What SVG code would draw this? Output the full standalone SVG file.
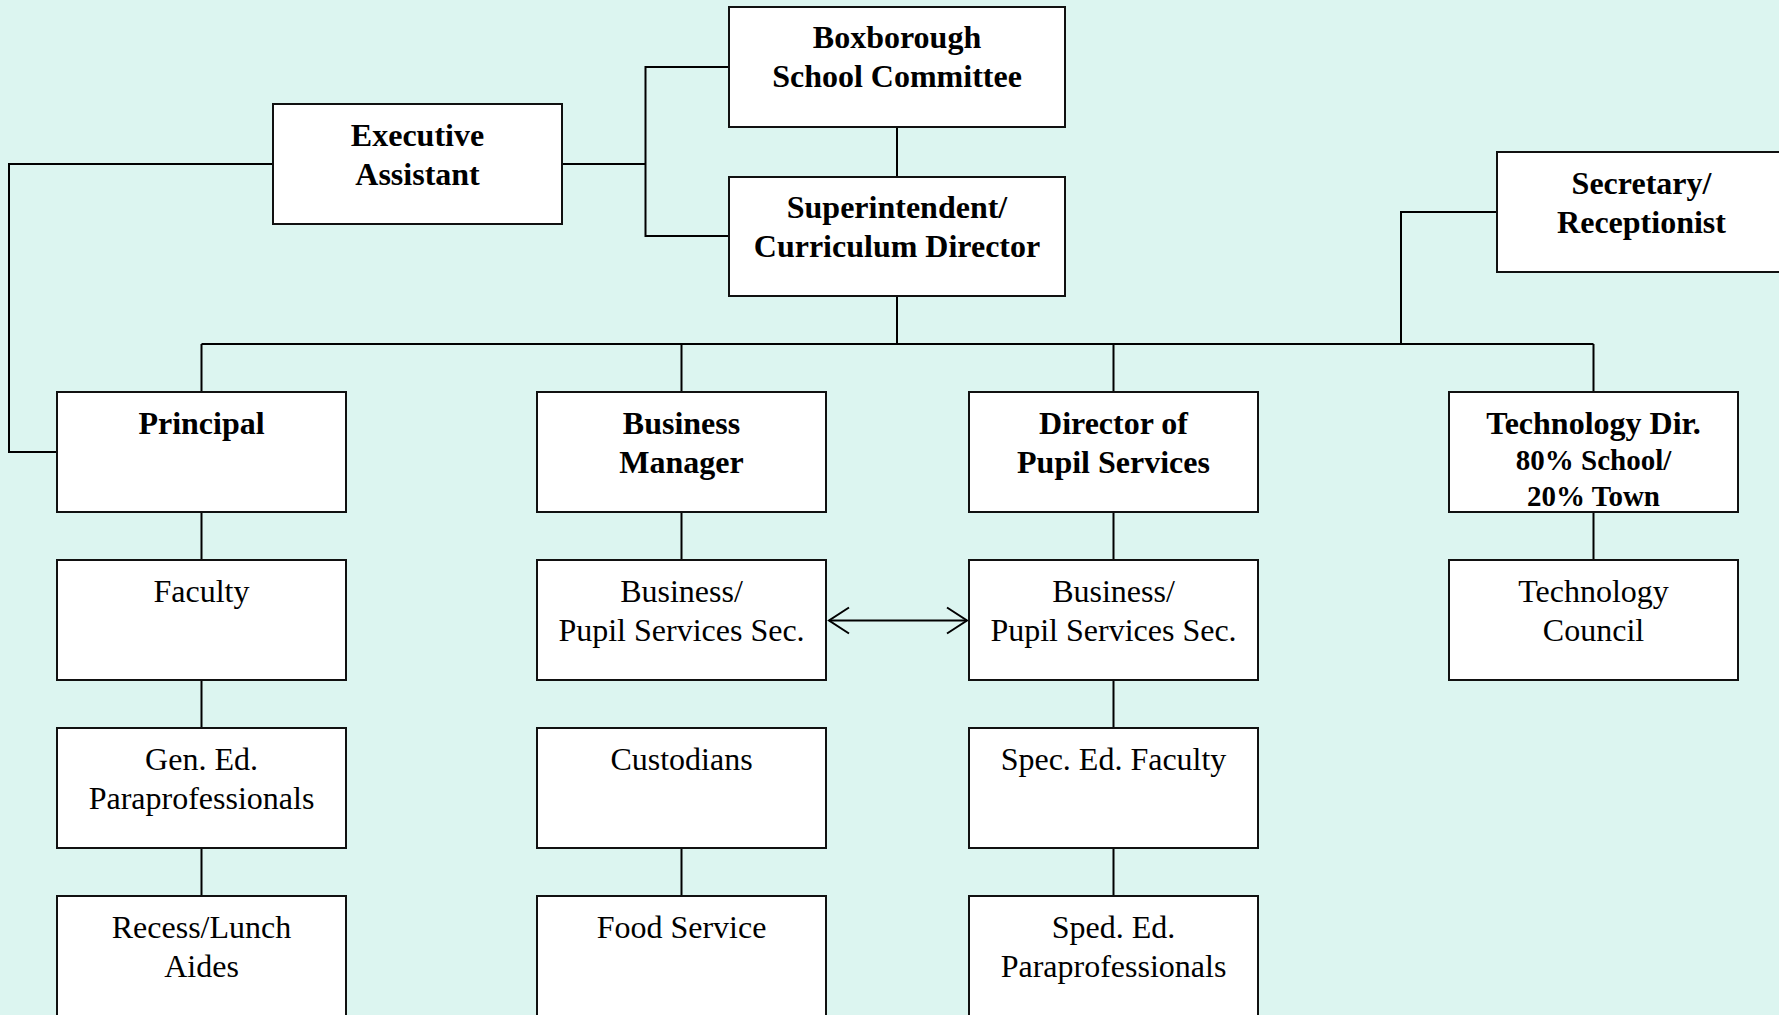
<svg xmlns="http://www.w3.org/2000/svg" width="1779" height="1015" viewBox="0 0 1779 1015">
<style>
.box{fill:#ffffff;stroke:#111111;stroke-width:2}
.ln{fill:none;stroke:#000000;stroke-width:2}
text{font-family:"Liberation Serif","Times New Roman",serif;font-size:32px;fill:#000000;text-anchor:middle}
.b{font-weight:bold}
.s{font-size:29px}
</style>
<defs>
<marker id="chev" markerUnits="userSpaceOnUse" markerWidth="24" markerHeight="30" viewBox="0 0 24 30" refX="21" refY="15" orient="auto-start-reverse">
<path d="M1,2 L21,15 L1,28" fill="none" stroke="#000" stroke-width="2"/>
</marker>
</defs>
<rect width="1779" height="1015" fill="#DCF5F0"/>
<g id="connectors">
<path class="ln" d="M273,164 H9 V452 H57"/>
<path class="ln" d="M562,164 H645.5"/>
<path class="ln" d="M729,67 H645.5 V236 H729"/>
<path class="ln" d="M897,127 V177"/>
<path class="ln" d="M897,296 V344"/>
<path class="ln" d="M201.5,344 H1593.5"/>
<path class="ln" d="M201.5,344 V392 M681.5,344 V392 M1113.5,344 V392 M1593.5,344 V392"/>
<path class="ln" d="M1497,212 H1401 V344"/>
<path class="ln" d="M201.5,512 V560 M201.5,680 V728 M201.5,848 V896"/>
<path class="ln" d="M681.5,512 V560 M681.5,848 V896"/>
<path class="ln" d="M1113.5,512 V560 M1113.5,680 V728 M1113.5,848 V896"/>
<path class="ln" d="M1593.5,512 V560"/>
<path class="ln" d="M829,620.5 H967" marker-start="url(#chev)" marker-end="url(#chev)"/>
</g>
<g id="boxborough">
<rect class="box" x="729" y="7" width="336" height="120"/>
<text class="b" x="897" y="48">Boxborough</text>
<text class="b" x="897" y="87">School Committee</text>
</g>
<g id="executive">
<rect class="box" x="273" y="104" width="289" height="120"/>
<text class="b" x="417.5" y="146">Executive</text>
<text class="b" x="417.5" y="185">Assistant</text>
</g>
<g id="superintendent">
<rect class="box" x="729" y="177" width="336" height="119"/>
<text class="b" x="897" y="218">Superintendent/</text>
<text class="b" x="897" y="257">Curriculum Director</text>
</g>
<g id="secretary">
<rect class="box" x="1497" y="152" width="289" height="120"/>
<text class="b" x="1641.5" y="194">Secretary/</text>
<text class="b" x="1641.5" y="233">Receptionist</text>
</g>
<g id="principal">
<rect class="box" x="57" y="392" width="289" height="120"/>
<text class="b" x="201.5" y="434">Principal</text>
</g>
<g id="business-manager">
<rect class="box" x="537" y="392" width="289" height="120"/>
<text class="b" x="681.5" y="434">Business</text>
<text class="b" x="681.5" y="473">Manager</text>
</g>
<g id="director-pupil-services">
<rect class="box" x="969" y="392" width="289" height="120"/>
<text class="b" x="1113.5" y="434">Director of</text>
<text class="b" x="1113.5" y="473">Pupil Services</text>
</g>
<g id="technology-dir">
<rect class="box" x="1449" y="392" width="289" height="120"/>
<text class="b" x="1593.5" y="434">Technology Dir.</text>
<text class="b s" x="1593.5" y="470">80% School/</text>
<text class="b s" x="1593.5" y="506">20% Town</text>
</g>
<g id="faculty">
<rect class="box" x="57" y="560" width="289" height="120"/>
<text x="201.5" y="602">Faculty</text>
</g>
<g id="business-sec">
<rect class="box" x="537" y="560" width="289" height="120"/>
<text x="681.5" y="602">Business/</text>
<text x="681.5" y="641">Pupil Services Sec.</text>
</g>
<g id="pupil-sec">
<rect class="box" x="969" y="560" width="289" height="120"/>
<text x="1113.5" y="602">Business/</text>
<text x="1113.5" y="641">Pupil Services Sec.</text>
</g>
<g id="technology-council">
<rect class="box" x="1449" y="560" width="289" height="120"/>
<text x="1593.5" y="602">Technology</text>
<text x="1593.5" y="641">Council</text>
</g>
<g id="gen-ed-para">
<rect class="box" x="57" y="728" width="289" height="120"/>
<text x="201.5" y="770">Gen. Ed.</text>
<text x="201.5" y="809">Paraprofessionals</text>
</g>
<g id="custodians">
<rect class="box" x="537" y="728" width="289" height="120"/>
<text x="681.5" y="770">Custodians</text>
</g>
<g id="spec-ed-faculty">
<rect class="box" x="969" y="728" width="289" height="120"/>
<text x="1113.5" y="770">Spec. Ed. Faculty</text>
</g>
<g id="recess-lunch">
<rect class="box" x="57" y="896" width="289" height="124"/>
<text x="201.5" y="938">Recess/Lunch</text>
<text x="201.5" y="977">Aides</text>
</g>
<g id="food-service">
<rect class="box" x="537" y="896" width="289" height="124"/>
<text x="681.5" y="938">Food Service</text>
</g>
<g id="sped-para">
<rect class="box" x="969" y="896" width="289" height="124"/>
<text x="1113.5" y="938">Sped. Ed.</text>
<text x="1113.5" y="977">Paraprofessionals</text>
</g>
</svg>
